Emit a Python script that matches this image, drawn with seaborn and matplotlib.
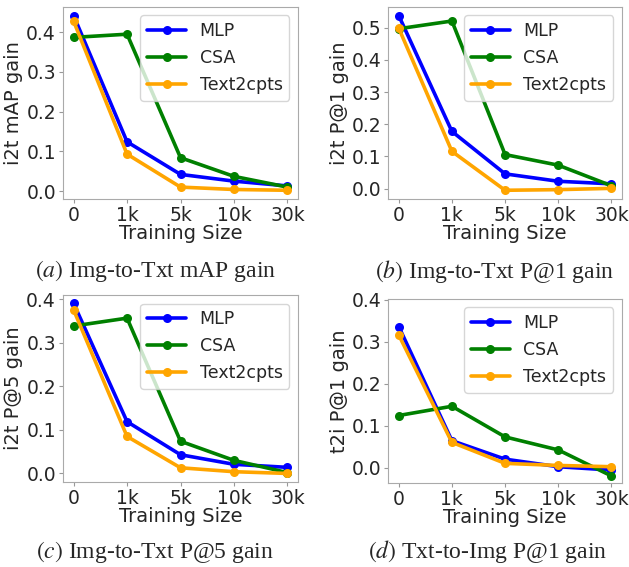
import matplotlib
matplotlib.use('Agg')
import matplotlib.pyplot as plt
from matplotlib.ticker import MultipleLocator
import seaborn as sns
import pandas as pd

# training sizes (x axis)
sizes = ['0', '1k', '5k', '10k', '30k']
methods = ['MLP', 'CSA', 'Text2cpts']
colors = {'MLP': 'blue', 'CSA': 'green', 'Text2cpts': 'orange'}

# (a) i2t mAP gain
i2t_map_mlp = [0.442, 0.124, 0.042, 0.025, 0.013]
i2t_map_csa = [0.387, 0.395, 0.084, 0.037, 0.010]
i2t_map_t2c = [0.428, 0.093, 0.010, 0.004, 0.002]

# (b) i2t P@1 gain
i2t_p1_mlp = [0.538, 0.178, 0.046, 0.023, 0.015]
i2t_p1_csa = [0.497, 0.521, 0.106, 0.073, 0.009]
i2t_p1_t2c = [0.499, 0.116, -0.005, -0.003, 0.001]

# (c) i2t P@5 gain
i2t_p5_mlp = [0.391, 0.119, 0.043, 0.021, 0.014]
i2t_p5_csa = [0.339, 0.357, 0.074, 0.030, 0.002]
i2t_p5_t2c = [0.376, 0.085, 0.013, 0.004, 0.000]

# (d) t2i P@1 gain
t2i_p1_mlp = [0.336, 0.064, 0.020, 0.002, -0.006]
t2i_p1_csa = [0.124, 0.146, 0.073, 0.042, -0.020]
t2i_p1_t2c = [0.316, 0.060, 0.010, 0.005, 0.002]

panels = [
    ('i2t mAP gain', r'$(a)$ Img-to-Txt mAP gain', [i2t_map_mlp, i2t_map_csa, i2t_map_t2c]),
    ('i2t P@1 gain', r'$(b)$ Img-to-Txt P@1 gain', [i2t_p1_mlp, i2t_p1_csa, i2t_p1_t2c]),
    ('i2t P@5 gain', r'$(c)$ Img-to-Txt P@5 gain', [i2t_p5_mlp, i2t_p5_csa, i2t_p5_t2c]),
    ('t2i P@1 gain', r'$(d)$ Txt-to-Img P@1 gain', [t2i_p1_mlp, t2i_p1_csa, t2i_p1_t2c]),
]

sns.set_style('white')
plt.rcParams['font.family'] = ['DejaVu Sans']
plt.rcParams['mathtext.fontset'] = 'stix'

fig = plt.figure(figsize=(6.29, 5.67), dpi=100)

# axes boxes [left, bottom, width, height]
boxes = [
    [0.100, 0.649, 0.374, 0.339],
    [0.617, 0.649, 0.372, 0.339],
    [0.100, 0.150, 0.374, 0.330],
    [0.617, 0.148, 0.372, 0.325],
]
caption_pos = [(0.247, 0.522), (0.787, 0.522), (0.247, 0.027), (0.776, 0.027)]

for i, (ylabel, caption, series) in enumerate(panels):
    ax = fig.add_axes(boxes[i])

    rows = []
    for m, vals in zip(methods, series):
        for j, v in enumerate(vals):
            rows.append({'x': j, 'gain': v, 'method': m})
    df = pd.DataFrame(rows)

    sns.lineplot(data=df, x='x', y='gain', hue='method', palette=colors,
                 marker='o', markersize=6.5, markeredgewidth=0, linewidth=2.6, ax=ax)

    ax.set_xticks(range(len(sizes)))
    ax.set_xticklabels(sizes)
    ax.yaxis.set_major_locator(MultipleLocator(0.1))
    ax.set_xlabel('Training Size', fontsize=14, labelpad=-1)
    ax.set_ylabel(ylabel, fontsize=14, labelpad=2)
    ax.tick_params(axis='both', labelsize=13.5, length=3, color='#999999',
                   bottom=True, left=True, pad=2)
    for s in ax.spines.values():
        s.set_color('#aaaaaa')
    if i == 3:
        ax.set_ylim(-0.037, 0.402)

    ax.legend(title=None, fontsize=12.5, loc='upper right', handlelength=2.2)

    fig.text(caption_pos[i][0], caption_pos[i][1], caption, ha='center', va='center',
             fontsize=17, family='Liberation Serif')

fig.savefig('out.png', dpi=100)
